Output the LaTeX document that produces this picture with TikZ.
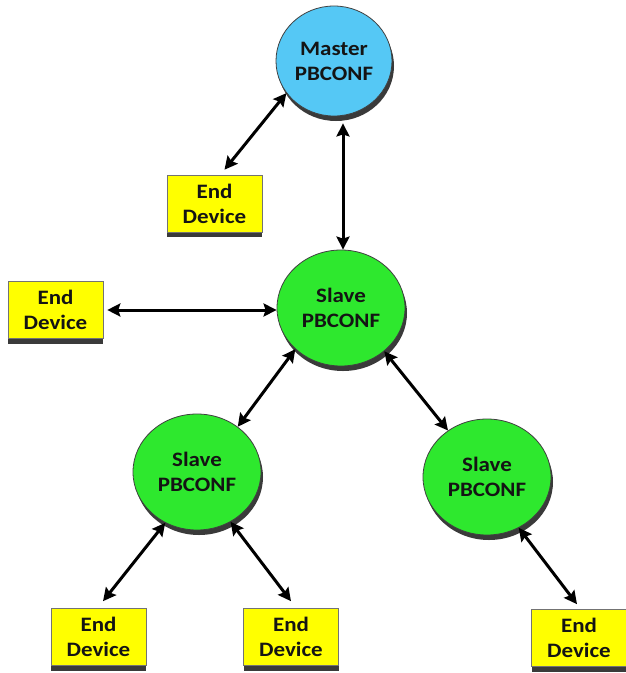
\documentclass[tikz,border=0pt]{standalone}
\usepackage{fontspec}
\newfontfamily\lab{Carlito}[FakeStretch=1.12]
\usetikzlibrary{shapes.geometric,shadows,arrows.meta}
\definecolor{mblue}{HTML}{55C8F5}
\definecolor{sgreen}{HTML}{2EE82E}
\definecolor{dyellow}{HTML}{FFFF00}
\definecolor{txt}{HTML}{141414}
\definecolor{shad}{HTML}{3A3A3A}
\begin{document}
\begin{tikzpicture}[x=1pt,y=-1pt,
  lbl/.style={font=\lab\bfseries\fontsize{20.5}{25}\selectfont, text=txt, align=center},
  pb/.style={lbl, ellipse, draw=black!75, line width=0.8pt, inner sep=0pt,
    minimum width=128pt, minimum height=116pt,
    drop shadow={shadow xshift=2pt, shadow yshift=-5pt, fill=shad, opacity=1}},
  master/.style={pb, fill=mblue, minimum width=116pt, minimum height=110pt},
  slave/.style={pb, fill=sgreen},
  dev/.style={lbl, rectangle, fill=dyellow, draw=black!55, line width=0.6pt,
    minimum width=95pt, minimum height=57pt, inner sep=0pt,
    drop shadow={shadow xshift=0pt, shadow yshift=-5pt, fill=shad, opacity=1}},
  arr/.style={line width=3pt, black,
    {Stealth[length=13pt,width=13pt,inset=2pt]}-{Stealth[length=13pt,width=13pt,inset=2pt]}}
]
\fill[white] (0,0) rectangle (625,673);
\useasboundingbox (0,0) rectangle (625,673);

\node[master] (m) at (334,61) {Master\\PBCONF};
\node[slave] (s1) at (341,308) {Slave\\PBCONF};
\node[slave] (s2) at (197,472) {Slave\\PBCONF};
\node[slave] (s3) at (487,477) {Slave\\PBCONF};

\node[dev] (e1) at (214.5,203.5) {End\\Device};
\node[dev] (eL) at (55.5,310) {End\\Device};
\node[dev] (bA) at (98.5,637) {End\\Device};
\node[dev] (bB) at (291,637) {End\\Device};
\node[dev] (bC) at (579,638) {End\\Device};

\draw[arr] (m.214) -- ([shift={(10pt,5pt)}]e1.north);
\draw[arr] ([xshift=9pt,yshift=-7pt]m.south) -- ([xshift=2pt]s1.north);
\draw[arr] ([xshift=4pt]eL.east) -- (eL.east -| s1.west);
\draw[arr] (s1.222) -- (s2.48);
\draw[arr] (s1.315) -- (s3.130);
\draw[arr] (s2.238) -- ([shift={(4.5pt,7pt)}]bA.north);
\draw[arr] (s2.304) -- ([yshift=7pt]bB.north);
\draw[arr] (s3.302) -- ([shift={(-2pt,5pt)}]bC.north);
\end{tikzpicture}
\end{document}
